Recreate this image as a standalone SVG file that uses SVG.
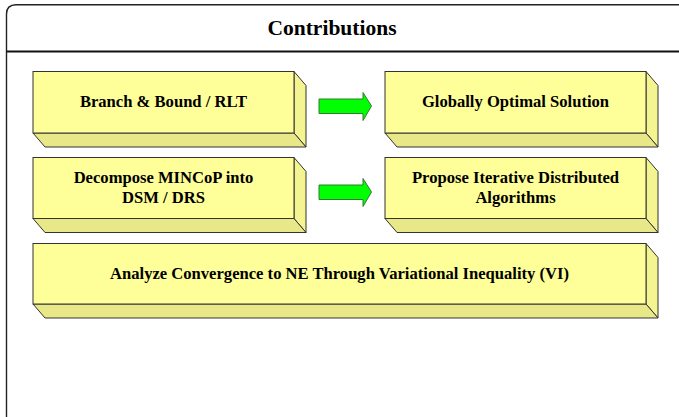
<svg xmlns="http://www.w3.org/2000/svg" width="679" height="417" viewBox="0 0 679 417">
<style>
text{font-family:'Liberation Serif','Times New Roman',Times,serif;font-weight:bold;fill:#000;text-anchor:middle}
.lbl{font-size:16.6px}
.title{font-size:21.5px}
.front{fill:#FFFF99;stroke:#333;stroke-width:1}
.side{fill:#F4F490;stroke:#333;stroke-width:1}
.bottom{fill:#E8E888;stroke:#333;stroke-width:1}
.arrow{fill:#00FF00;stroke:#2E7D2E;stroke-width:1}
</style>
<rect width="679" height="417" fill="#fff"/>
<g id="container">
<path d="M6.5,430 L6.5,14 Q6.5,4.7 16,4.7 L690,4.7" fill="none" stroke="#222" stroke-width="1.4"/>
<line x1="6.5" y1="51.5" x2="679" y2="51.5" stroke="#111" stroke-width="2"/>
<text class="title" x="332" y="35">Contributions</text>
</g>
<g id="n1">
<polygon class="side" points="294,71.5 306,85.5 306,147 294,133"/>
<polygon class="bottom" points="33,133 294,133 306,147 45,147"/>
<rect class="front" x="33" y="71.5" width="261" height="61.5"/>
<text class="lbl" x="163.5" y="107">Branch &amp; Bound / RLT</text>
</g>
<g id="n2">
<polygon class="side" points="646,71.5 658,85.5 658,147 646,133"/>
<polygon class="bottom" points="385,133 646,133 658,147 397,147"/>
<rect class="front" x="385" y="71.5" width="261" height="61.5"/>
<text class="lbl" x="515.5" y="107">Globally Optimal Solution</text>
</g>
<g id="n3">
<polygon class="side" points="294,157.5 306,171.5 306,232.5 294,218.5"/>
<polygon class="bottom" points="33,218.5 294,218.5 306,232.5 45,232.5"/>
<rect class="front" x="33" y="157.5" width="261" height="61"/>
<text class="lbl" x="163.5" y="183">Decompose MINCoP into</text>
<text class="lbl" x="163.5" y="203">DSM / DRS</text>
</g>
<g id="n4">
<polygon class="side" points="646,157.5 658,171.5 658,232.5 646,218.5"/>
<polygon class="bottom" points="385,218.5 646,218.5 658,232.5 397,232.5"/>
<rect class="front" x="385" y="157.5" width="261" height="61"/>
<text class="lbl" x="515.5" y="183">Propose Iterative Distributed</text>
<text class="lbl" x="515.5" y="203">Algorithms</text>
</g>
<g id="n5">
<polygon class="side" points="646,243.5 658,257.5 658,318 646,304"/>
<polygon class="bottom" points="33,304 646,304 658,318 45,318"/>
<rect class="front" x="33" y="243.5" width="613" height="60.5"/>
<text class="lbl" x="339.5" y="279">Analyze Convergence to NE Through Variational Inequality (VI)</text>
</g>
<g id="connectors">
<polygon class="arrow" points="319,99 363,99 363,92.5 371.5,106 363,120.5 363,113.5 319,113.5"/>
<polygon class="arrow" points="319,185 363,185 363,178.5 371.5,192 363,206.5 363,199.5 319,199.5"/>
</g>
</svg>
